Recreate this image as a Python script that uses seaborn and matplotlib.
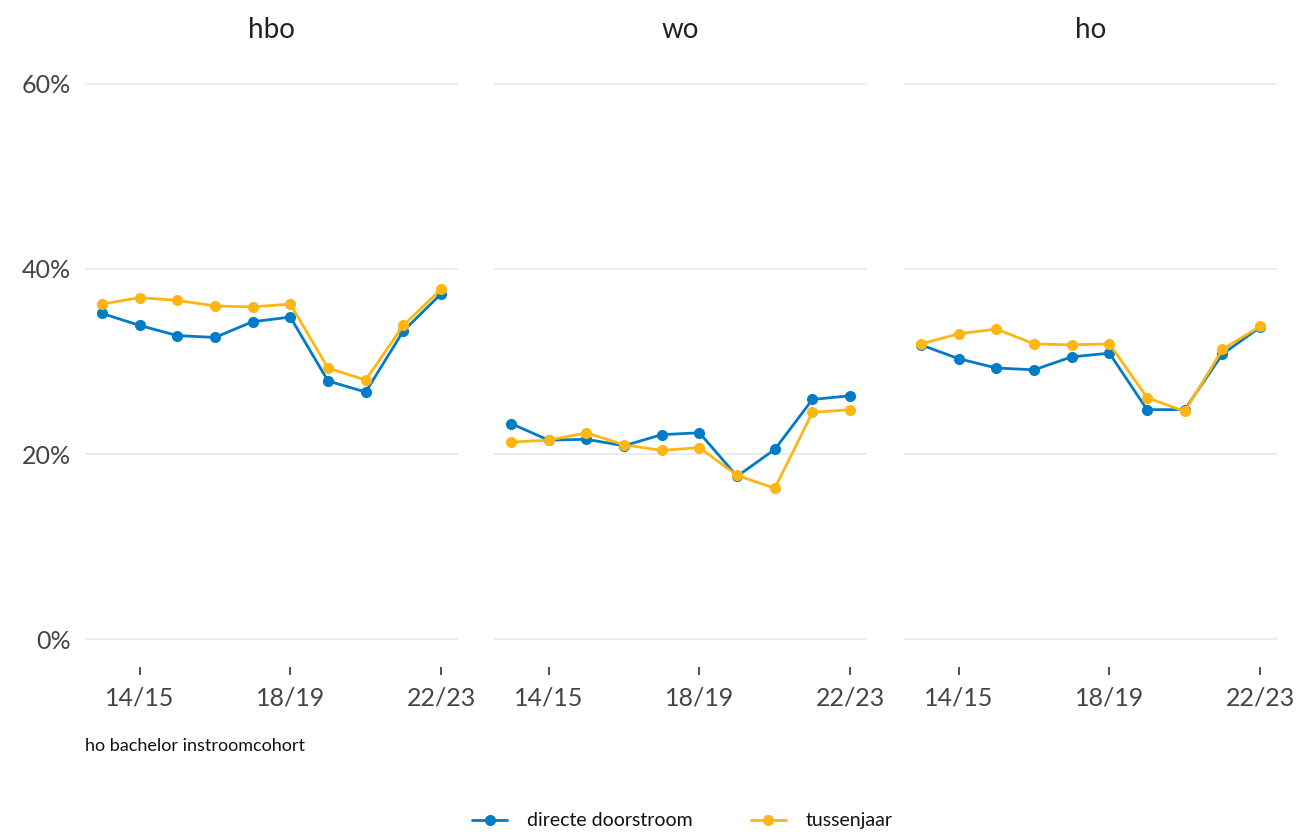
import matplotlib
matplotlib.use("Agg")
import matplotlib.pyplot as plt
import seaborn as sns
import pandas as pd
import numpy as np
from matplotlib.ticker import FuncFormatter

cohorts = ["13/14", "14/15", "15/16", "16/17", "17/18", "18/19", "19/20", "20/21", "21/22", "22/23"]
sectors = ["hbo", "wo", "ho"]
series_names = ["directe doorstroom", "tussenjaar"]

hbo_direct = [35.2, 33.9, 32.8, 32.6, 34.3, 34.8, 27.9, 26.7, 33.3, 37.3]
hbo_tussen = [36.2, 36.9, 36.6, 36.0, 35.9, 36.2, 29.3, 28.0, 33.9, 37.8]
wo_direct = [23.3, 21.5, 21.6, 20.9, 22.1, 22.3, 17.6, 20.5, 25.9, 26.3]
wo_tussen = [21.3, 21.5, 22.3, 21.0, 20.4, 20.7, 17.7, 16.3, 24.5, 24.8]
ho_direct = [31.8, 30.3, 29.3, 29.1, 30.5, 30.9, 24.8, 24.8, 30.8, 33.7]
ho_tussen = [31.9, 33.0, 33.5, 31.9, 31.8, 31.9, 26.1, 24.6, 31.3, 33.8]

values = {
    ("hbo", "directe doorstroom"): hbo_direct,
    ("hbo", "tussenjaar"): hbo_tussen,
    ("wo", "directe doorstroom"): wo_direct,
    ("wo", "tussenjaar"): wo_tussen,
    ("ho", "directe doorstroom"): ho_direct,
    ("ho", "tussenjaar"): ho_tussen,
}

rows = []
for s in sectors:
    for n in series_names:
        for i, (c, v) in enumerate(zip(cohorts, values[(s, n)])):
            rows.append({"sector": s, "reeks": n, "cohort": c, "pos": i, "waarde": v})
df = pd.DataFrame(rows)

sns.set_theme(style="white")
plt.rcParams["font.family"] = ["Lato", "DejaVu Sans"]

palette = {"directe doorstroom": "#007BC7", "tussenjaar": "#FFB612"}
text_col = "#444444"

fig = plt.figure(figsize=(13.07, 8.32), dpi=100)
lefts = [0.065, 0.378, 0.6917]
width = 0.2854
bottom = 0.1983
height = 0.7344

tick_idx = [1, 5, 9]
axes = []
for k, s in enumerate(sectors):
    ax = fig.add_axes([lefts[k], bottom, width, height])
    sub = df[df.sector == s]
    sns.lineplot(data=sub, x="pos", y="waarde", hue="reeks", hue_order=series_names,
                 palette=palette, marker="o", markersize=8, markeredgewidth=0,
                 linewidth=2, ax=ax, legend=(k == 0))
    ax.set_xlim(-0.45, 9.45)
    ax.set_ylim(-3, 63)
    ax.set_yticks([0, 20, 40, 60])
    ax.yaxis.set_major_formatter(FuncFormatter(lambda v, p: f"{int(v)}%"))
    ax.grid(axis="y", color="#EBEBEB", linewidth=1.5)
    ax.grid(axis="x", visible=False)
    for sp in ax.spines.values():
        sp.set_visible(False)
    ax.set_xticks(tick_idx)
    ax.set_xticklabels([cohorts[i] for i in tick_idx])
    ax.tick_params(axis="x", length=6, width=1.2, color="#333333", labelsize=18,
                   labelcolor=text_col, pad=8, bottom=True)
    ax.tick_params(axis="y", length=0, labelsize=18, labelcolor=text_col, pad=10)
    if k > 0:
        ax.set_yticklabels([])
    ax.set_xlabel("")
    ax.set_ylabel("")
    ax.set_axisbelow(True)
    fig.text(lefts[k] + width / 2, 1 - 30 / 832, s, ha="center", va="center",
             fontsize=20, color="#222222")
    axes.append(ax)

handles, labels = axes[0].get_legend_handles_labels()
axes[0].get_legend().remove()
fig.legend(handles, labels, loc="lower center", bbox_to_anchor=(0.522, -0.018), ncol=2,
           frameon=False, fontsize=14, handlelength=1.8, columnspacing=3.0,
           handletextpad=1.0, labelcolor="#111111")

fig.text(lefts[0] + 0.0, 1 - 746 / 832, "ho bachelor instroomcohort", fontsize=13,
         color="#111111", ha="left", va="center")

fig.savefig("out.png", dpi=100)
